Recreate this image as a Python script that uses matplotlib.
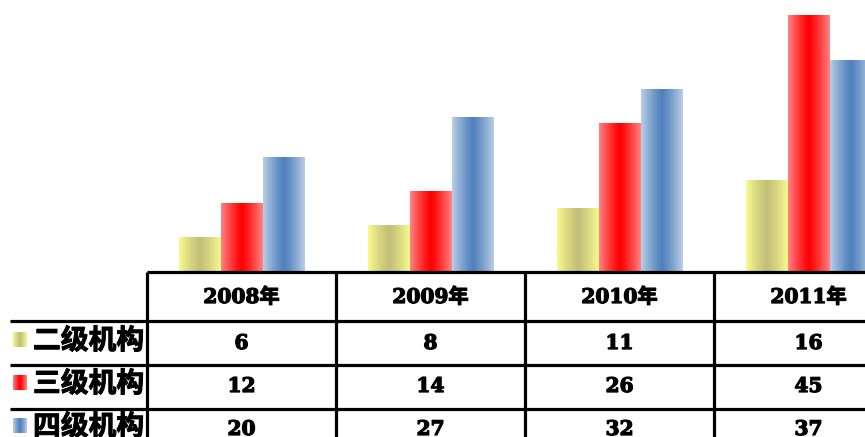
import numpy as np
import matplotlib
matplotlib.use("Agg")
import matplotlib.pyplot as plt
import matplotlib.patheffects as pe
from matplotlib.colors import to_rgb

plt.rcParams['font.family'] = ['DejaVu Serif', 'Noto Sans CJK SC', 'DejaVu Sans']

years = ["2008年", "2009年", "2010年", "2011年"]
series_names = ["二级机构", "三级机构", "四级机构"]
level2 = [6, 8, 11, 16]
level3 = [12, 14, 26, 45]
level4 = [20, 27, 32, 37]
series_values = [level2, level3, level4]

edge_cols = ["#f9f98e", "#ff8282", "#b9cde5"]
center_cols = ["#c2c078", "#ff0000", "#4f81bd"]

W, H = 865, 437
fig = plt.figure(figsize=(W / 100, H / 100), dpi=100)

xl = (-147 / 189, 718 / 189)
base_px = 271
ymax = base_px / 5.7

ax = fig.add_axes([0, (H - base_px) / H, 1, base_px / H])
ax.set_xlim(*xl)
ax.set_ylim(0, ymax)
ax.axis('off')


def grad_img(edge, center, n=64):
    e = np.array(to_rgb(edge))
    c = np.array(to_rgb(center))
    t = np.abs(np.linspace(-1, 1, n)) ** 1.2
    row = c[None, :] + (e - c)[None, :] * t[:, None]
    return row[None, :, :]


x = np.arange(len(years)) + 0.5
bw = 42 / 189
for i, (vals, ec, cc) in enumerate(zip(series_values, edge_cols, center_cols)):
    bars = ax.bar(x + (i - 1) * bw, vals, width=bw, color='none', linewidth=0)
    img = grad_img(ec, cc)
    for b in bars:
        x0, y0 = b.get_x(), b.get_y()
        im = ax.imshow(img, extent=[x0, x0 + b.get_width(), y0, y0 + b.get_height()],
                       aspect='auto', interpolation='bilinear', zorder=2)
        im.set_clip_path(b)
ax.set_xlim(*xl)
ax.set_ylim(0, ymax)

# table
tx = fig.add_axes([0, 0, 1, 1])
tx.set_xlim(*xl)
tx.set_ylim(H, 0)
tx.axis('off')
lw = 2.3
px = 1 / 189
row_lines = [272, 321, 365, 409]
tx.plot([0, xl[1]], [row_lines[0]] * 2, color='black', lw=lw, solid_capstyle='butt')
for yl in row_lines[1:]:
    tx.plot([(10 - 147) * px, xl[1]], [yl] * 2, color='black', lw=lw,
            solid_capstyle='butt')
for k in range(len(years) + 1):
    tx.plot([k, k], [row_lines[0], H], color='black', lw=lw, solid_capstyle='butt')

heavy = [pe.withStroke(linewidth=0.9, foreground='black')]
for k, yr in enumerate(years):
    tx.text(k + 0.5, 297, yr, ha='center', va='center', fontsize=14.5, fontweight='bold',
            path_effects=heavy)
row_centers = [343, 386, 429]
for r, (name, vals, ec, cc) in enumerate(zip(series_names, series_values, edge_cols, center_cols)):
    yc = row_centers[r]
    for k, v in enumerate(vals):
        tx.text(k + 0.5, yc, str(v), ha='center', va='center', fontsize=14.5, fontweight='bold',
                path_effects=heavy)
    tx.text((33 - 147) * px, yc - 2, name, ha='left', va='center', fontsize=20,
            fontweight='bold', family=['Noto Sans CJK SC', 'DejaVu Sans'],
            path_effects=[pe.withStroke(linewidth=0.7, foreground='black')])
    sx0 = (13 - 147) * px
    tx.imshow(grad_img(ec, cc), extent=[sx0, sx0 + 14 * px, yc + 4, yc - 11],
              aspect='auto', interpolation='bilinear')
tx.set_xlim(*xl)
tx.set_ylim(H, 0)

fig.savefig("out.png", dpi=100)
